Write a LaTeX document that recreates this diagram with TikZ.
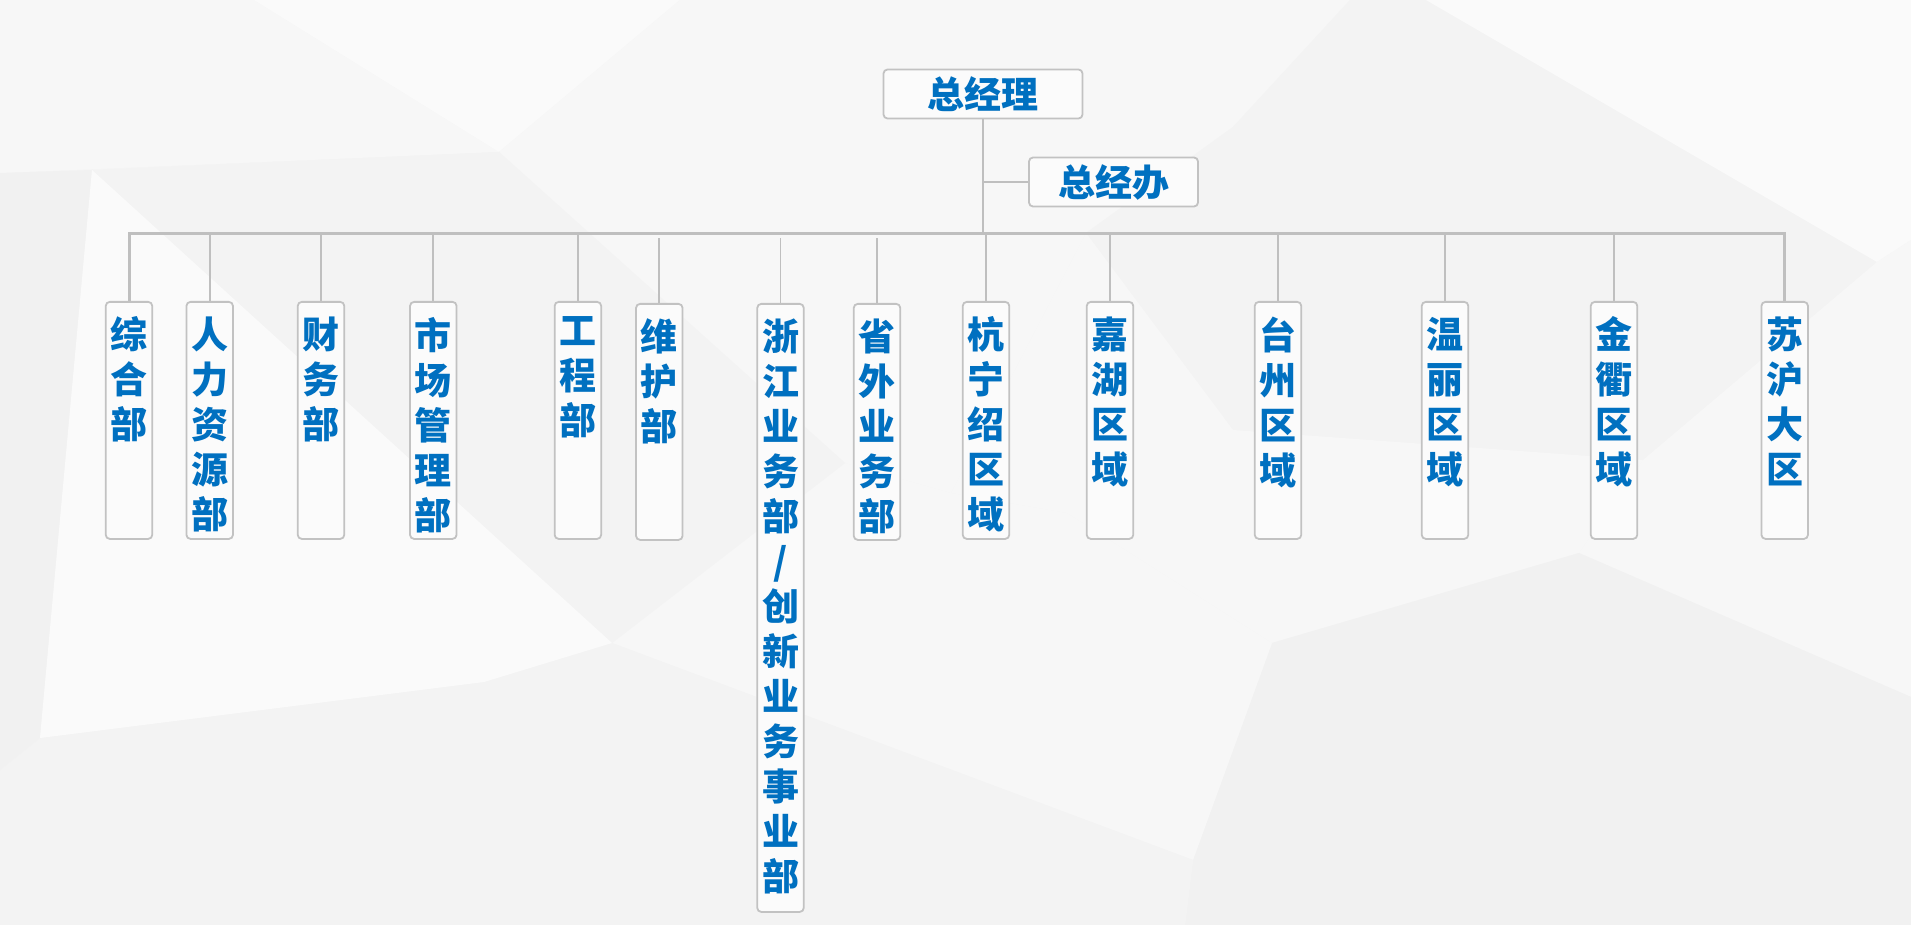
\documentclass[tikz,border=0pt]{standalone}
\usepackage{fontspec}
\newfontfamily\cjk{Noto Sans CJK SC}
\definecolor{txtblue}{HTML}{0070C0}
\definecolor{linegray}{HTML}{BFBFBF}
\definecolor{boxgray}{HTML}{C2C2C2}
\definecolor{boxfill}{HTML}{FBFBFB}
\definecolor{bgbase}{HTML}{F5F5F5}
\definecolor{bgwhite}{HTML}{FAFAFA}
\definecolor{bglight}{HTML}{F7F7F7}
\definecolor{bggrey}{HTML}{F1F1F1}
\definecolor{bgmid}{HTML}{F3F3F3}
\newcommand\vcol[2]{\parbox[c][#1pt][t]{46.5pt}{\centering\vspace*{15pt}#2}}
\begin{document}
\begin{tikzpicture}[x=1pt,y=-1pt,
  conn/.style={draw=linegray, line width=1.8pt},
  busline/.style={draw=linegray, line width=3pt},
  hbox/.style={draw=boxgray, line width=1.8pt, rounded corners=4pt, fill=boxfill, inner sep=0pt, minimum height=49pt, text=txtblue, font=\cjk\bfseries\fontsize{37}{45}\selectfont},
  vbox/.style={draw=boxgray, line width=1.8pt, rounded corners=4pt, fill=boxfill, inner sep=0pt, anchor=north, text=txtblue, font=\cjk\bfseries\fontsize{37}{45}\selectfont}]
\useasboundingbox (0,0) rectangle (1911,925);
% background facets
\fill[bgbase] (0,0) rectangle (1911,925);
\fill[bglight] (0,0) -- (254,0) -- (499,152) -- (0,173) -- cycle;
\fill[bgwhite] (254,0) -- (680,0) -- (499,152) -- cycle;
\fill[bglight] (680,0) -- (1350,0) -- (1233,127) -- (1086,233) -- (951,493) -- (845,463) -- (499,152) -- cycle;
\fill[bgmid] (1350,0) -- (1426,0) -- (1877,262) -- (1643,460) -- (1233,430) -- (1086,233) -- (1233,127) -- cycle;
\fill[bglight] (951,493) -- (1086,233) -- (1233,430) -- (1643,460) -- (1579,553) -- (1272,643) -- (1067,513) -- cycle;
\fill[bgwhite] (1426,0) -- (1911,0) -- (1911,240) -- (1877,262) -- cycle;
\fill[bglight] (1877,262) -- (1911,240) -- (1911,697) -- (1579,553) -- (1643,460) -- cycle;
\fill[bggrey] (1272,643) -- (1579,553) -- (1911,697) -- (1911,925) -- (1185,925) -- (1193,860) -- cycle;
\fill[bglight] (612,643) -- (845,463) -- (951,493) -- (1067,513) -- (1272,643) -- (1193,860) -- cycle;
\fill[bgmid] (0,770) -- (40,738) -- (484,682) -- (612,643) -- (1193,860) -- (1185,925) -- (0,925) -- cycle;
\fill[bggrey] (0,173) -- (92,170) -- (40,738) -- (0,770) -- cycle;
\fill[bgmid] (92,170) -- (499,152) -- (845,463) -- (612,643) -- cycle;
\fill[bgwhite] (92,170) -- (612,643) -- (484,682) -- (40,738) -- cycle;
% top nodes
\node[hbox, minimum width=199pt] (gm) at (983,94) {总经理};
\node[hbox, minimum width=169pt] (go) at (1113.5,182) {总经办};
% department boxes
\node[vbox] (zh) at (129,301) {\vcol{237}{综\\合\\部}};
\node[vbox] (rl) at (209.7,301) {\vcol{237}{人\\力\\资\\源\\部}};
\node[vbox] (cw) at (321,301) {\vcol{237}{财\\务\\部}};
\node[vbox] (sc) at (433.3,301) {\vcol{237}{市\\场\\管\\理\\部}};
\node[vbox] (gc) at (577.9,301) {\vcol{237}{工\\程\\部}};
\node[vbox] (wh) at (659.3,303) {\vcol{236}{维\\护\\部}};
\node[vbox] (zj) at (780.5,303) {\vcol{608}{浙\\江\\业\\务\\部\\/\\创\\新\\业\\务\\事\\业\\部}};
\node[vbox] (sw) at (877,303) {\vcol{236}{省\\外\\业\\务\\部}};
\node[vbox] (hn) at (986,301) {\vcol{237}{杭\\宁\\绍\\区\\域}};
\node[vbox] (jh) at (1110,301) {\vcol{237}{嘉\\湖\\区\\域}};
\node[vbox] (tz) at (1278,301) {\vcol{237}{台\\州\\区\\域}};
\node[vbox] (wl) at (1445,301) {\vcol{237}{温\\丽\\区\\域}};
\node[vbox] (jq) at (1614,301) {\vcol{237}{金\\衢\\区\\域}};
\node[vbox] (sh) at (1784.7,301) {\vcol{237}{苏\\沪\\大\\区}};
% connectors
\coordinate (bus) at (0,234);
\coordinate (bustwo) at (0,238.5);
\draw[busline] (zh.north) -- (zh.north |- bus) -- (sh.north |- bus) -- (sh.north);
\draw[conn] (gm.south) -- (gm.south |- bus);
\draw[conn] (gm.south |- go.west) -- (go.west);
\foreach \n in {rl,cw,sc,gc,hn,jh,tz,wl,jq} \draw[conn] (\n.north) -- (\n.north |- bus);
\foreach \n in {wh,zj,sw} \draw[conn] (\n.north) -- (\n.north |- bustwo);
\end{tikzpicture}
\end{document}
